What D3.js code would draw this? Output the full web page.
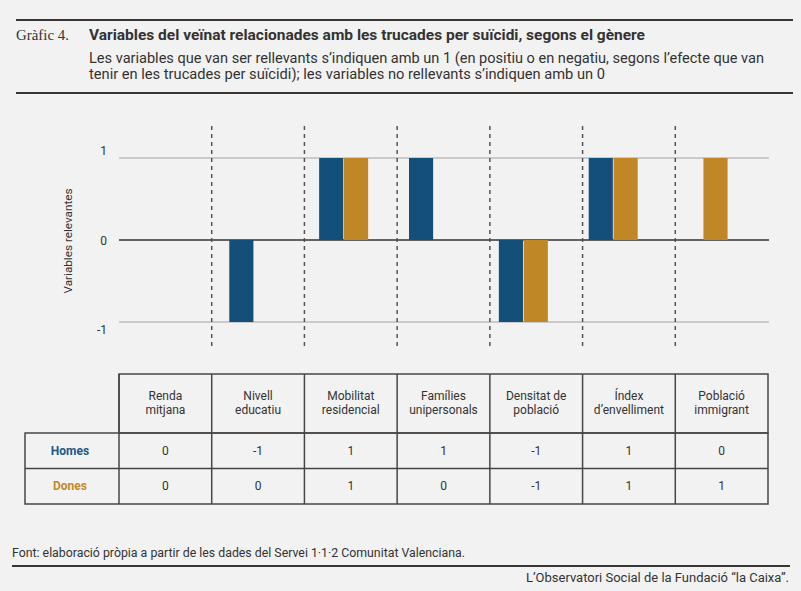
<!DOCTYPE html>
<html>
<head>
<meta charset="utf-8">
<script src="https://cdn.jsdelivr.net/npm/d3@7"></script>
<style>
  body { margin: 0; background: #f2f2f2; }
  svg { display: block; font-family: Roboto, "Liberation Sans", sans-serif; }
</style>
</head>
<body>
<svg width="801" height="591"></svg>
<script>
const categories = ["Renda mitjana", "Nivell educatiu", "Mobilitat residencial", "Famílies unipersonals",
  "Densitat de població", "Índex d’envelliment", "Població immigrant"];
const headerLines = [["Renda", "mitjana"], ["Nivell", "educatiu"], ["Mobilitat", "residencial"],
  ["Famílies", "unipersonals"], ["Densitat de", "població"], ["Índex", "d’envelliment"], ["Població", "immigrant"]];
const seriesNames = ["Homes", "Dones"];
const homes = [0, -1, 1, 1, -1, 1, 0];
const dones = [0, 0, 1, 0, -1, 1, 1];
const yTicks = [-1, 0, 1];

const colors = { Homes: "#134f79", Dones: "#c08727" };
const labelColors = { Homes: "#1d5689", Dones: "#c28a2d" };
const ink = "#333";

const svg = d3.select("svg");

svg.append("rect").attr("width", 801).attr("height", 591).attr("fill", "#f2f2f2");

// header
svg.append("line").attr("x1", 16).attr("x2", 793).attr("y1", 20).attr("y2", 20)
  .attr("stroke", "#3a3535").attr("stroke-width", 2);
svg.append("line").attr("x1", 16).attr("x2", 793).attr("y1", 93).attr("y2", 93)
  .attr("stroke", "#3a3535").attr("stroke-width", 2);

svg.append("text").text("Gràfic 4.")
  .attr("x", 16).attr("y", 40)
  .attr("font-family", "'Liberation Serif', 'DejaVu Serif', serif")
  .attr("font-size", "15px").attr("fill", ink)
  .attr("textLength", 53).attr("lengthAdjust", "spacingAndGlyphs");

svg.append("text").text("Variables del veïnat relacionades amb les trucades per suïcidi, segons el gènere")
  .attr("x", 89).attr("y", 40)
  .attr("font-size", "14.5px").attr("font-weight", "bold").attr("fill", ink)
  .attr("textLength", 556).attr("lengthAdjust", "spacingAndGlyphs");

const subtitle = [
  ["Les variables que van ser rellevants s’indiquen amb un 1 (en positiu o en negatiu, segons l’efecte que van", 675],
  ["tenir en les trucades per suïcidi); les variables no rellevants s’indiquen amb un 0", 516]
];
svg.append("g").selectAll("text")
  .data(subtitle)
  .join("text")
  .text(d => d[0])
  .attr("x", 89)
  .attr("y", (d, i) => 63 + i * 16)
  .attr("font-size", "14px").attr("fill", ink)
  .attr("textLength", d => d[1]).attr("lengthAdjust", "spacingAndGlyphs");

// chart
const y = d3.scaleLinear().domain([-1, 1]).range([322, 158]);
const yLabel = d3.scaleLinear().domain([-1, 1]).range([330, 151]);
const xTable = d3.scaleBand().domain(categories).range([119, 768]);
const xBar = d3.scaleBand().domain(categories).range([119, 748]);
const xSub = d3.scaleBand().domain(seriesNames).range([0, 49]).paddingInner(0.03);

svg.append("g")
  .selectAll("line")
  .data(yTicks)
  .join("line")
  .attr("x1", 119).attr("x2", 769)
  .attr("y1", d => y(d)).attr("y2", d => y(d))
  .attr("stroke", d => d === 0 ? "#333" : "#bdbdbd")
  .attr("stroke-width", 1.5);

svg.append("g")
  .selectAll("text")
  .data(yTicks)
  .join("text")
  .text(d => d)
  .attr("x", 107)
  .attr("y", d => yLabel(d))
  .attr("dy", "0.35em")
  .attr("text-anchor", "end")
  .attr("font-size", "12px").attr("fill", ink);

svg.append("text").text("Variables relevantes")
  .attr("transform", "translate(72,241) rotate(-90)")
  .attr("text-anchor", "middle")
  .attr("font-size", "11px").attr("fill", ink)
  .attr("textLength", 105).attr("lengthAdjust", "spacingAndGlyphs");

const barData = [];
categories.forEach((c, i) => {
  barData.push({ cat: c, series: "Homes", value: homes[i] });
  barData.push({ cat: c, series: "Dones", value: dones[i] });
});

const pairOffset = (xBar.bandwidth() - 49) / 2;
svg.append("g")
  .selectAll("rect")
  .data(barData.filter(d => d.value !== 0))
  .join("rect")
  .attr("x", d => xBar(d.cat) + pairOffset + xSub(d.series))
  .attr("width", xSub.bandwidth())
  .attr("y", d => Math.min(y(d.value), y(0)))
  .attr("height", d => Math.abs(y(d.value) - y(0)))
  .attr("fill", d => colors[d.series]);

// dashed dividers
svg.append("g")
  .selectAll("line")
  .data(categories.slice(1))
  .join("line")
  .attr("x1", d => xTable(d)).attr("x2", d => xTable(d))
  .attr("y1", 126).attr("y2", 350)
  .attr("stroke", "#555").attr("stroke-width", 1.5)
  .attr("stroke-dasharray", "4,4");

// table
const tableTop = 374, headerBottom = 433, rowH = 35.5, tableLeft = 25;
const border = "#4a4545";
const table = svg.append("g");

table.append("rect")
  .attr("x", xTable.range()[0]).attr("y", tableTop)
  .attr("width", xTable.range()[1] - xTable.range()[0]).attr("height", headerBottom - tableTop)
  .attr("fill", "none").attr("stroke", border).attr("stroke-width", 1.5);

table.append("rect")
  .attr("x", tableLeft).attr("y", headerBottom)
  .attr("width", xTable.range()[1] - tableLeft).attr("height", rowH * 2)
  .attr("fill", "none").attr("stroke", border).attr("stroke-width", 1.5);

table.append("line")
  .attr("x1", tableLeft).attr("x2", xTable.range()[1])
  .attr("y1", headerBottom + rowH).attr("y2", headerBottom + rowH)
  .attr("stroke", border).attr("stroke-width", 1.5);

table.selectAll("line.col")
  .data(categories)
  .join("line")
  .attr("class", "col")
  .attr("x1", d => xTable(d)).attr("x2", d => xTable(d))
  .attr("y1", tableTop).attr("y2", headerBottom + rowH * 2)
  .attr("stroke", border).attr("stroke-width", 1.5);

const head = table.selectAll("text.head")
  .data(categories)
  .join("text")
  .attr("class", "head")
  .attr("x", d => xTable(d) + xTable.bandwidth() / 2)
  .attr("y", 400)
  .attr("text-anchor", "middle")
  .attr("font-size", "12px").attr("fill", ink);
head.selectAll("tspan")
  .data((d, i) => headerLines[i])
  .join("tspan")
  .attr("x", function() { return this.parentNode.getAttribute("x"); })
  .attr("dy", (d, i) => i === 0 ? 0 : 13.5)
  .text(d => d);

const rows = [homes, dones];
seriesNames.forEach((s, r) => {
  const cy = headerBottom + rowH * r + rowH / 2;
  table.append("text").text(s)
    .attr("x", 70).attr("y", cy).attr("dy", "0.35em")
    .attr("text-anchor", "middle")
    .attr("font-size", "12px").attr("font-weight", "bold")
    .attr("fill", labelColors[s]);
  table.append("g")
    .selectAll("text")
    .data(rows[r])
    .join("text")
    .text(d => d)
    .attr("x", (d, i) => xTable(categories[i]) + xTable.bandwidth() / 2)
    .attr("y", cy).attr("dy", "0.35em")
    .attr("text-anchor", "middle")
    .attr("font-size", "12px").attr("fill", ink);
});

// footer
svg.append("text").text("Font: elaboració pròpia a partir de les dades del Servei 1·1·2 Comunitat Valenciana.")
  .attr("x", 12).attr("y", 557)
  .attr("font-size", "12px").attr("fill", ink)
  .attr("textLength", 453).attr("lengthAdjust", "spacingAndGlyphs");

svg.append("line").attr("x1", 12).attr("x2", 790).attr("y1", 566).attr("y2", 566)
  .attr("stroke", "#3a3535").attr("stroke-width", 2);

svg.append("text").text("L’Observatori Social de la Fundació “la Caixa”.")
  .attr("x", 789).attr("y", 582)
  .attr("text-anchor", "end")
  .attr("font-size", "12px").attr("fill", ink)
  .attr("textLength", 263).attr("lengthAdjust", "spacingAndGlyphs");
</script>
</body>
</html>
